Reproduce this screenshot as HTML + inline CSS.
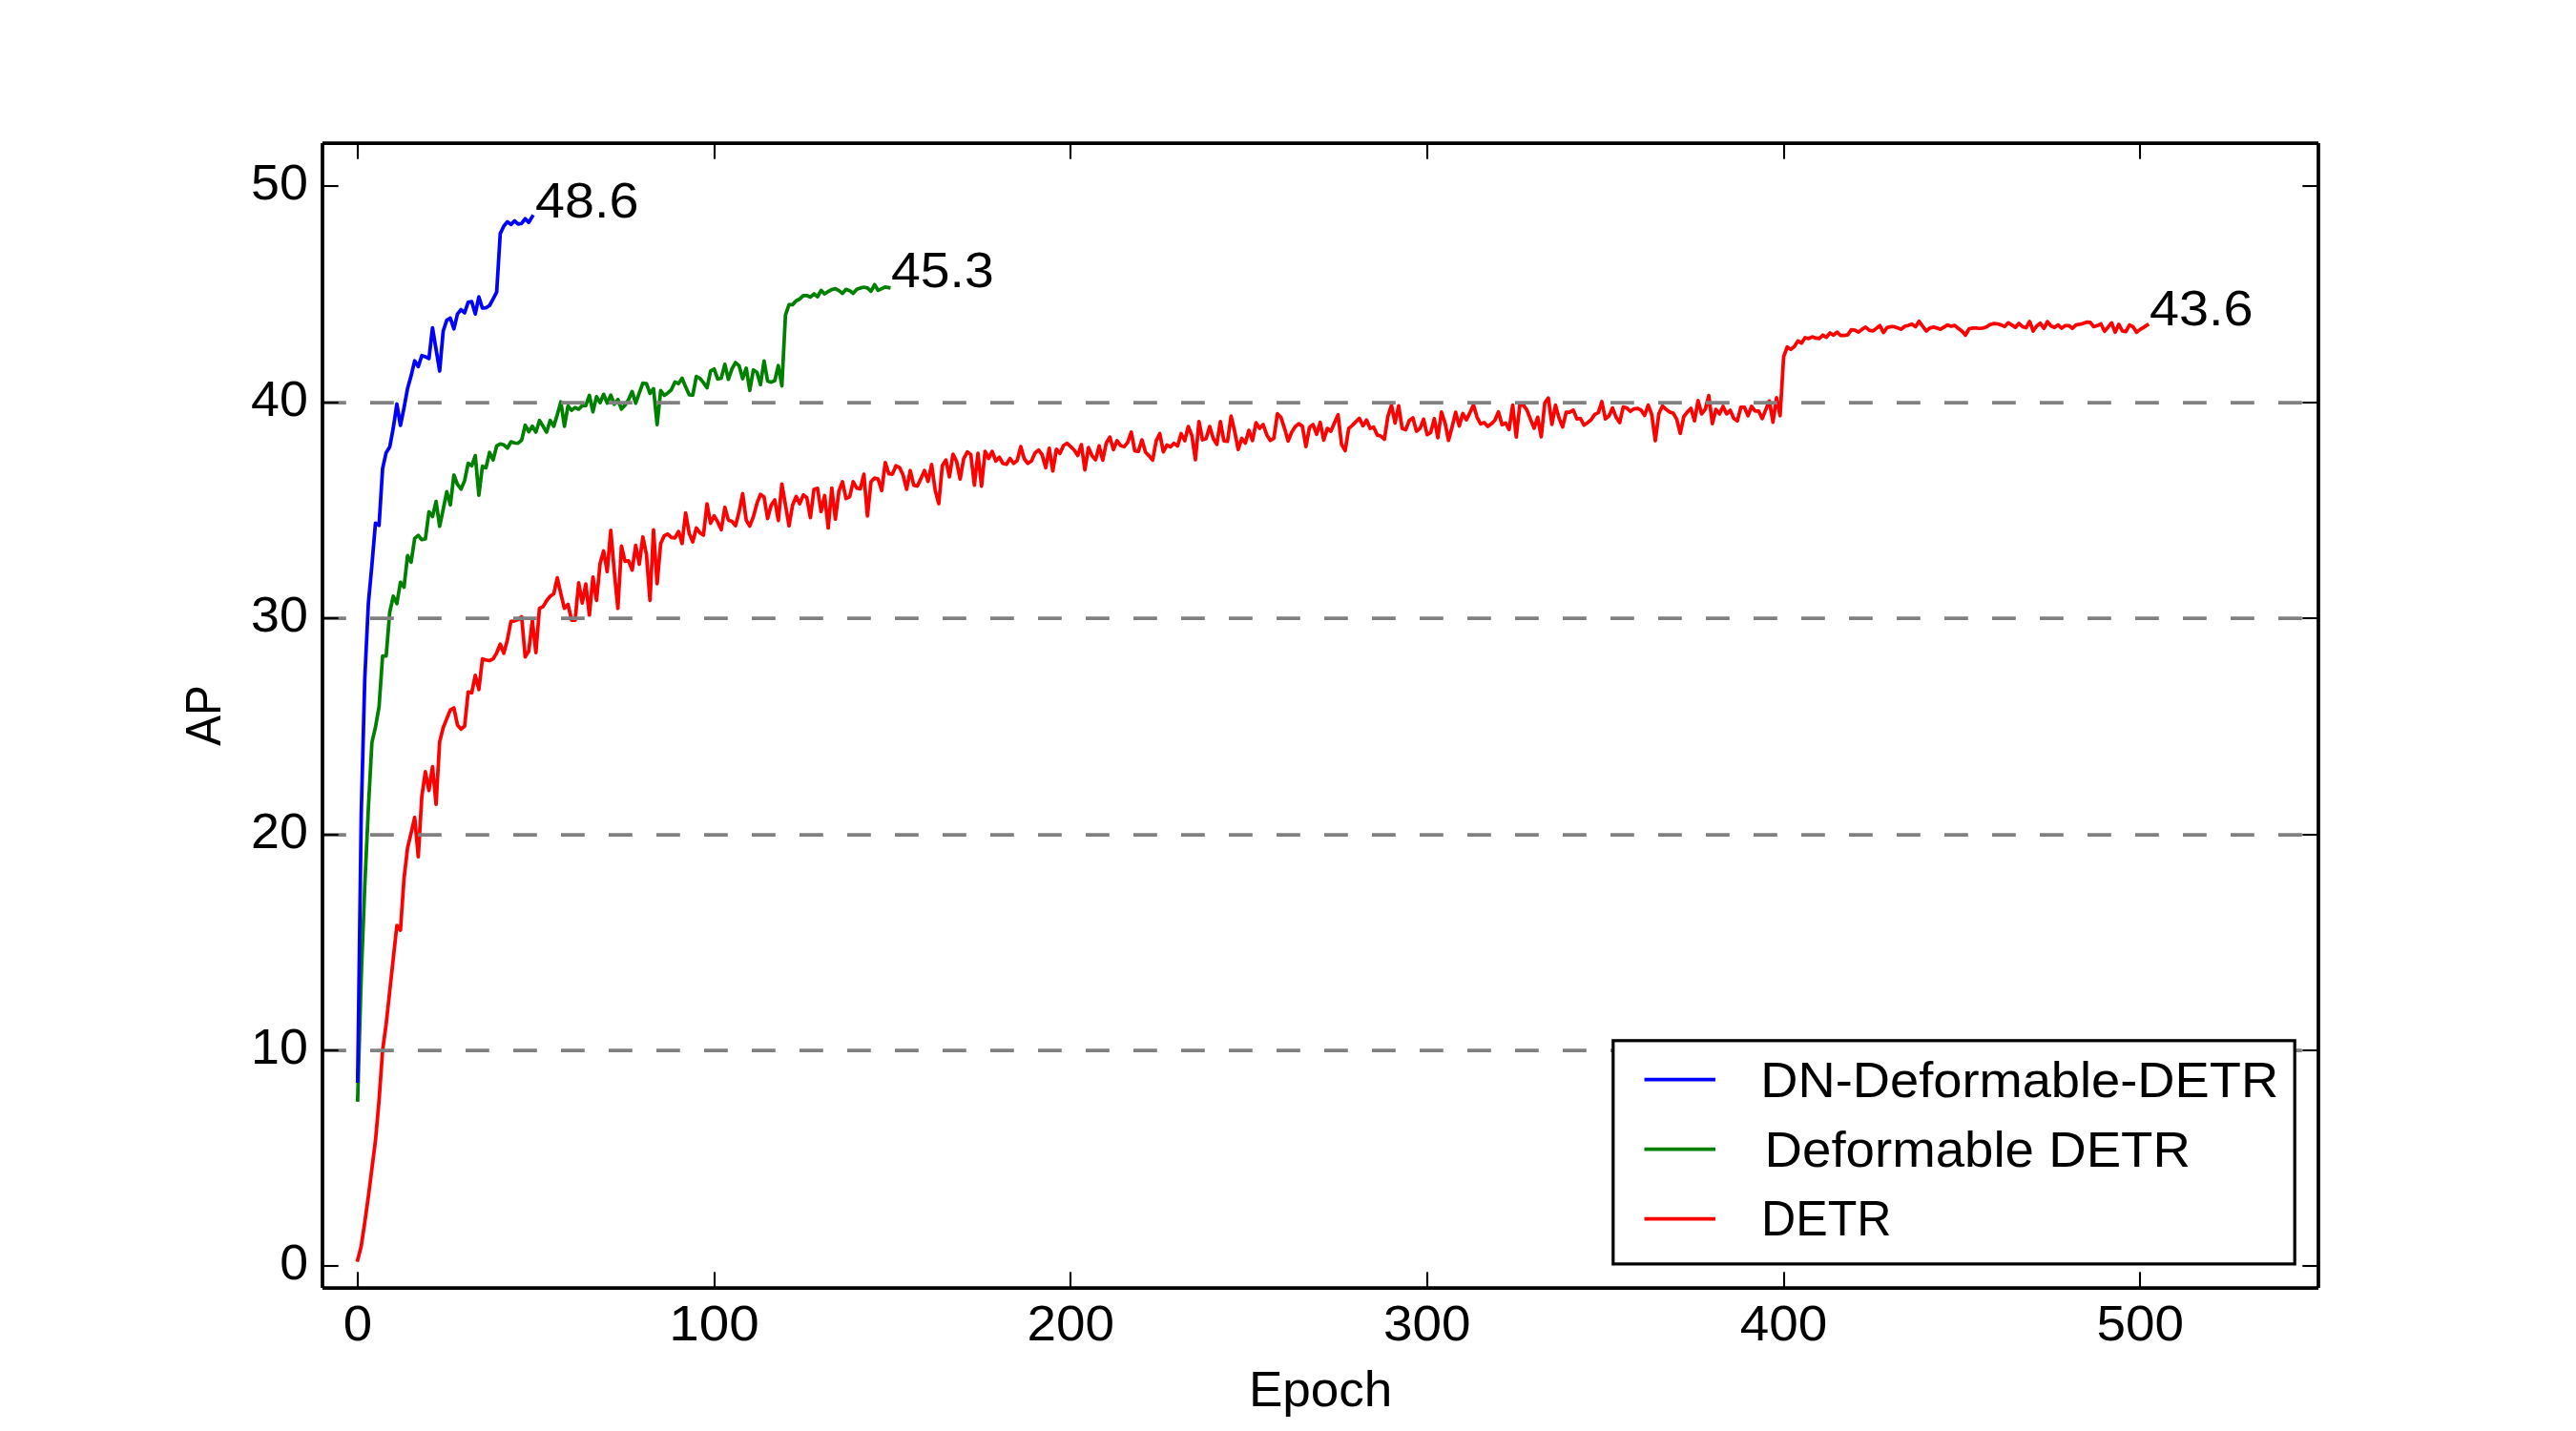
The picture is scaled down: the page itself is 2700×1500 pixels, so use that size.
<!DOCTYPE html><html><head><meta charset="utf-8"><style>html,body{margin:0;padding:0;background:#fff;overflow:hidden}svg{display:block}text{font-family:"Liberation Sans",sans-serif;fill:#000}</style></head><body>
<svg width="2700" height="1500" viewBox="0 0 2700 1500">
<rect width="2700" height="1500" fill="#fff"/>
<polyline points="374.87,1320.79 378.60,1306.30 382.34,1281.17 386.08,1254.23 389.81,1225.02 393.55,1195.58 397.29,1153.70 401.02,1100.94 404.76,1073.32 408.50,1038.91 412.23,1004.49 415.97,970.08 419.71,975.06 423.44,921.40 427.18,888.79 430.92,873.17 434.65,856.87 438.39,898.08 442.12,834.91 445.86,808.87 449.60,828.57 453.33,803.66 457.07,843.06 460.81,777.62 464.54,762.68 468.28,753.40 472.02,744.11 475.75,742.08 479.49,759.96 483.23,764.26 486.96,761.32 490.70,725.32 494.44,726.23 498.17,707.89 501.91,722.83 505.65,690.68 509.38,691.81 513.12,692.49 516.86,690.68 520.59,684.34 524.33,675.28 528.07,684.79 531.80,670.75 535.54,651.28 539.28,650.83 543.01,649.47 546.75,646.53 550.49,688.64 554.22,682.53 557.96,650.38 561.70,684.11 565.43,637.70 569.17,635.89 572.91,629.77 576.64,625.02 580.38,622.53 584.12,605.55 587.85,622.30 591.59,637.70 595.33,633.40 599.06,650.15 602.80,650.15 606.54,610.98 610.27,632.04 614.01,612.11 617.75,644.72 621.48,604.87 625.22,629.32 628.96,590.83 632.69,577.47 636.43,599.21 640.17,555.96 643.90,599.43 647.64,637.70 651.38,572.49 655.11,588.34 658.85,587.89 662.58,597.62 666.32,571.58 670.06,591.51 673.79,562.75 677.53,580.87 681.27,629.32 685.00,555.28 688.74,611.89 692.48,569.77 696.21,561.62 699.95,559.81 703.69,563.43 707.42,563.89 711.16,557.09 714.90,569.77 718.63,537.62 722.37,559.13 726.11,567.96 729.84,553.47 733.58,558.45 737.32,560.94 741.05,528.11 744.79,548.49 748.53,540.79 752.26,547.13 756.00,555.28 759.74,531.74 763.47,545.32 767.21,546.45 770.95,550.98 774.68,536.49 778.42,517.47 782.16,545.32 785.89,551.43 789.63,541.70 793.37,527.66 797.10,518.15 800.84,521.09 804.58,543.51 808.31,529.47 812.05,524.04 815.79,545.55 819.52,507.28 823.26,529.25 827.00,551.21 830.73,529.47 834.47,520.42 838.21,528.11 841.94,518.83 845.68,521.77 849.42,542.60 853.15,512.94 856.89,511.81 860.62,536.26 864.36,519.51 868.10,553.47 871.83,511.58 875.57,544.19 879.31,514.75 883.04,505.02 886.78,522.68 890.52,520.87 894.25,505.02 897.99,511.58 901.73,512.49 905.46,497.09 909.20,540.79 912.94,505.02 916.67,501.17 920.41,502.08 924.15,514.30 927.88,484.87 931.62,496.64 935.36,497.09 939.09,488.26 942.83,490.08 946.57,498.00 950.30,512.94 954.04,493.25 957.78,508.64 961.51,509.55 965.25,501.62 968.99,493.25 972.72,504.57 976.46,486.91 980.20,513.85 983.93,528.11 987.67,488.26 991.41,482.15 995.14,499.81 998.88,476.04 1002.62,483.51 1006.35,502.08 1010.09,480.79 1013.83,473.77 1017.56,476.49 1021.30,508.64 1025.04,475.13 1028.77,509.55 1032.51,473.09 1036.25,480.57 1039.98,473.09 1043.72,483.28 1047.46,479.21 1051.19,485.77 1054.93,486.68 1058.67,480.57 1062.40,485.77 1066.14,482.83 1069.88,468.11 1073.61,481.02 1077.35,485.77 1081.08,483.28 1084.82,474.91 1088.56,471.74 1092.29,476.72 1096.03,490.30 1099.77,469.92 1103.50,493.70 1107.24,470.83 1110.98,475.36 1114.71,466.98 1118.45,464.72 1122.19,468.11 1125.92,471.74 1129.66,477.40 1133.40,466.08 1137.13,492.57 1140.87,469.02 1144.61,477.85 1148.34,481.92 1152.08,467.43 1155.82,482.38 1159.55,464.26 1163.29,458.15 1167.03,471.28 1170.76,462.00 1174.50,466.98 1178.24,468.34 1181.97,463.81 1185.71,452.94 1189.45,472.64 1193.18,473.09 1196.92,461.09 1200.66,474.00 1204.39,477.85 1208.13,482.38 1211.87,462.00 1215.60,454.53 1219.34,473.55 1223.08,466.53 1226.81,468.34 1230.55,464.72 1234.29,467.43 1238.02,454.53 1241.76,462.00 1245.50,447.06 1249.23,456.34 1252.97,481.92 1256.71,441.85 1260.44,461.09 1264.18,459.74 1267.92,447.06 1271.65,459.51 1275.39,465.85 1279.12,441.85 1282.86,462.23 1286.60,462.68 1290.33,436.19 1294.07,452.04 1297.81,471.06 1301.54,459.51 1305.28,464.49 1309.02,451.13 1312.75,461.77 1316.49,443.21 1320.23,449.09 1323.96,445.02 1327.70,455.66 1331.44,461.77 1335.17,459.51 1338.91,433.70 1342.65,437.55 1346.38,449.09 1350.12,462.23 1353.86,452.94 1357.59,447.28 1361.33,444.11 1365.07,446.83 1368.80,468.11 1372.54,447.96 1376.28,445.02 1380.01,455.21 1383.75,442.75 1387.49,461.32 1391.22,449.09 1394.96,452.04 1398.70,443.21 1402.43,434.83 1406.17,465.85 1409.91,472.42 1413.64,449.09 1417.38,445.92 1421.12,442.08 1424.85,438.45 1428.59,446.38 1432.33,440.26 1436.06,449.09 1439.80,447.74 1443.54,456.11 1447.27,457.02 1451.01,460.42 1454.75,436.19 1458.48,424.87 1462.22,443.43 1465.96,425.32 1469.69,449.09 1473.43,450.45 1477.17,440.72 1480.90,438.00 1484.64,452.04 1488.38,449.09 1492.11,439.36 1495.85,455.66 1499.58,453.40 1503.32,438.91 1507.06,458.83 1510.79,431.89 1514.53,442.98 1518.27,461.55 1522.00,447.51 1525.74,432.11 1529.48,446.60 1533.21,433.47 1536.95,440.04 1540.69,432.57 1544.42,424.64 1548.16,437.32 1551.90,444.34 1555.63,442.98 1559.37,447.06 1563.11,444.34 1566.84,440.49 1570.58,431.66 1574.32,445.25 1578.05,443.43 1581.79,450.23 1585.53,424.64 1589.26,458.15 1593.00,424.19 1596.74,424.64 1600.47,429.85 1604.21,439.58 1607.95,448.87 1611.68,437.32 1615.42,457.92 1619.16,422.38 1622.89,417.17 1626.63,444.79 1630.37,424.64 1634.10,438.23 1637.84,447.51 1641.58,432.11 1645.31,432.11 1649.05,429.85 1652.79,439.13 1656.52,438.68 1660.26,445.70 1664.00,442.98 1667.73,440.04 1671.47,434.38 1675.21,432.57 1678.94,421.02 1682.68,439.13 1686.42,435.96 1690.15,427.58 1693.89,437.32 1697.62,442.98 1701.36,426.68 1705.10,427.58 1708.83,431.21 1712.57,428.49 1716.31,428.04 1720.04,429.85 1723.78,435.51 1727.52,424.64 1731.25,434.38 1734.99,462.00 1738.73,433.47 1742.46,425.77 1746.20,428.94 1749.94,431.89 1753.67,433.02 1757.41,439.36 1761.15,454.30 1764.88,436.64 1768.62,431.89 1772.36,428.04 1776.09,441.17 1779.83,419.89 1783.57,433.92 1787.30,429.17 1791.04,414.68 1794.78,444.11 1798.51,429.17 1802.25,433.92 1805.99,426.00 1809.72,433.92 1813.46,430.08 1817.20,438.45 1820.93,441.17 1824.67,426.91 1828.41,426.91 1832.14,435.74 1835.88,426.00 1839.62,430.98 1843.35,430.98 1847.09,438.91 1850.83,429.17 1854.56,420.34 1858.30,442.53 1862.04,416.94 1865.77,435.74 1869.51,373.92 1873.25,363.74 1876.98,366.23 1880.72,363.28 1884.46,357.40 1888.19,359.66 1891.93,354.00 1895.67,354.91 1899.40,353.09 1903.14,354.45 1906.88,354.91 1910.61,351.28 1914.35,353.55 1918.08,349.02 1921.82,351.28 1925.56,348.11 1929.29,351.74 1933.03,351.74 1936.77,350.83 1940.50,345.62 1944.24,346.08 1947.98,348.11 1951.71,345.17 1955.45,342.91 1959.19,346.08 1962.92,346.98 1966.66,344.26 1970.40,341.32 1974.13,348.57 1977.87,343.36 1981.61,342.45 1985.34,342.45 1989.08,343.81 1992.82,345.17 1996.55,342.00 2000.29,341.09 2004.03,339.74 2007.76,342.45 2011.50,336.79 2015.24,342.00 2018.97,346.98 2022.71,343.81 2026.45,342.91 2030.18,343.81 2033.92,345.17 2037.66,342.91 2041.39,340.64 2045.13,342.00 2048.87,341.09 2052.60,344.26 2056.34,346.98 2060.08,351.28 2063.81,344.72 2067.55,343.81 2071.29,343.81 2075.02,344.26 2078.76,343.81 2082.50,342.45 2086.23,340.19 2089.97,339.06 2093.71,339.51 2097.44,340.64 2101.18,342.23 2104.92,338.38 2108.65,340.64 2112.39,343.13 2116.12,339.06 2119.86,342.45 2123.60,343.58 2127.33,337.02 2131.07,346.98 2134.81,341.77 2138.54,338.83 2142.28,344.26 2146.02,337.25 2149.75,341.77 2153.49,343.13 2157.23,340.64 2160.96,344.04 2164.70,341.32 2168.44,341.32 2172.17,344.26 2175.91,340.64 2179.65,339.96 2183.38,339.06 2187.12,337.70 2190.86,337.92 2194.59,342.45 2198.33,341.32 2202.07,339.51 2205.80,347.21 2209.54,342.91 2213.28,338.38 2217.01,348.34 2220.75,339.96 2224.49,346.98 2228.22,347.66 2231.96,340.64 2235.70,342.45 2239.43,348.34 2243.17,345.40 2246.91,343.13 2250.64,340.64" fill="none" stroke="#ff0000" stroke-width="3.75" stroke-linejoin="round" stroke-linecap="square"/>
<polyline points="374.87,1153.02 378.60,1023.96 382.34,928.87 386.08,847.36 389.81,778.30 393.55,762.23 397.29,740.94 401.02,687.51 404.76,687.51 408.50,641.77 412.23,625.02 415.97,632.72 419.71,610.30 423.44,615.51 427.18,582.45 430.92,589.25 434.65,564.34 438.39,561.17 442.12,565.70 445.86,565.02 449.60,536.49 453.33,541.47 457.07,525.62 460.81,551.66 464.54,533.77 468.28,515.43 472.02,529.25 475.75,498.00 479.49,507.74 483.23,512.72 486.96,503.89 490.70,485.55 494.44,488.26 498.17,477.62 501.91,519.06 505.65,488.72 509.38,490.30 513.12,474.23 516.86,482.15 520.59,467.43 524.33,465.40 528.07,466.30 531.80,469.70 535.54,463.13 539.28,464.26 543.01,464.72 546.75,461.32 550.49,445.70 554.22,452.49 557.96,446.83 561.70,452.94 565.43,440.72 569.17,446.83 572.91,452.94 576.64,440.72 580.38,446.83 584.12,434.60 587.85,421.25 591.59,446.83 595.33,425.55 599.06,430.08 602.80,427.13 606.54,428.94 610.27,425.09 614.01,425.09 617.75,414.45 621.48,431.66 625.22,415.81 628.96,422.15 632.69,413.32 636.43,422.60 640.17,414.23 643.90,423.74 647.64,418.75 651.38,428.72 655.11,424.64 658.85,418.75 662.58,410.38 666.32,422.60 670.06,411.96 673.79,401.55 677.53,402.00 681.27,412.42 685.00,407.43 688.74,445.02 692.48,409.47 696.21,414.45 699.95,411.96 703.69,408.57 707.42,400.42 711.16,402.00 714.90,396.57 718.63,405.40 722.37,413.77 726.11,414.23 729.84,394.53 733.58,396.57 737.32,401.09 741.05,406.53 744.79,388.87 748.53,386.83 752.26,397.25 756.00,396.34 759.74,381.85 763.47,397.70 767.21,386.60 770.95,380.04 774.68,383.43 778.42,397.02 782.16,385.92 785.89,409.25 789.63,387.74 793.37,390.23 797.10,403.13 800.84,378.45 804.58,399.51 808.31,400.64 812.05,399.06 815.79,383.21 819.52,404.49 823.26,330.45 827.00,319.36 830.73,319.36 834.47,315.28 838.21,313.47 841.94,309.85 845.68,309.85 849.42,311.43 853.15,308.04 856.89,310.98 860.62,304.42 864.36,308.04 868.10,305.55 871.83,303.51 875.57,302.60 879.31,304.64 883.04,307.58 886.78,303.28 890.52,304.64 894.25,307.58 897.99,303.28 901.73,301.92 905.46,301.02 909.20,301.92 912.94,305.32 916.67,298.30 920.41,304.42 924.15,302.60 927.88,300.79 931.62,301.47" fill="none" stroke="#008000" stroke-width="3.75" stroke-linejoin="round" stroke-linecap="square"/>
<polyline points="374.87,1133.09 378.60,854.15 382.34,711.51 386.08,632.72 389.81,592.42 393.55,548.26 397.29,550.75 401.02,491.21 404.76,474.45 408.50,468.57 412.23,448.42 415.97,423.51 419.71,445.92 423.44,427.58 427.18,407.21 430.92,393.85 434.65,378.23 438.39,384.34 442.12,372.79 445.86,373.92 449.60,375.96 453.33,343.58 457.07,366.23 460.81,388.87 464.54,346.98 468.28,335.66 472.02,333.40 475.75,344.72 479.49,329.09 483.23,324.57 486.96,327.96 490.70,316.87 494.44,316.19 498.17,329.09 501.91,311.21 505.65,322.98 509.38,322.53 513.12,320.26 516.86,313.47 520.59,306.23 524.33,244.87 528.07,236.94 531.80,232.42 535.54,235.36 539.28,231.51 543.01,234.91 546.75,234.23 550.49,229.25 554.22,233.09 557.96,226.98" fill="none" stroke="#0000ff" stroke-width="3.75" stroke-linejoin="round" stroke-linecap="square"/>
<line x1="338" y1="1101" x2="2430" y2="1101" stroke="#808080" stroke-width="3.75" stroke-dasharray="24.8 25.2"/>
<line x1="338" y1="875" x2="2430" y2="875" stroke="#808080" stroke-width="3.75" stroke-dasharray="24.8 25.2"/>
<line x1="338" y1="648" x2="2430" y2="648" stroke="#808080" stroke-width="3.75" stroke-dasharray="24.8 25.2"/>
<line x1="338" y1="422" x2="2430" y2="422" stroke="#808080" stroke-width="3.75" stroke-dasharray="24.8 25.2"/>
<line x1="375" y1="1350" x2="375" y2="1333.3" stroke="#000" stroke-width="2.1"/>
<line x1="375" y1="150" x2="375" y2="166.7" stroke="#000" stroke-width="2.1"/>
<line x1="749" y1="1350" x2="749" y2="1333.3" stroke="#000" stroke-width="2.1"/>
<line x1="749" y1="150" x2="749" y2="166.7" stroke="#000" stroke-width="2.1"/>
<line x1="1122" y1="1350" x2="1122" y2="1333.3" stroke="#000" stroke-width="2.1"/>
<line x1="1122" y1="150" x2="1122" y2="166.7" stroke="#000" stroke-width="2.1"/>
<line x1="1496" y1="1350" x2="1496" y2="1333.3" stroke="#000" stroke-width="2.1"/>
<line x1="1496" y1="150" x2="1496" y2="166.7" stroke="#000" stroke-width="2.1"/>
<line x1="1870" y1="1350" x2="1870" y2="1333.3" stroke="#000" stroke-width="2.1"/>
<line x1="1870" y1="150" x2="1870" y2="166.7" stroke="#000" stroke-width="2.1"/>
<line x1="2243" y1="1350" x2="2243" y2="1333.3" stroke="#000" stroke-width="2.1"/>
<line x1="2243" y1="150" x2="2243" y2="166.7" stroke="#000" stroke-width="2.1"/>
<line x1="338" y1="1327" x2="354.7" y2="1327" stroke="#000" stroke-width="2.1"/>
<line x1="2430" y1="1327" x2="2413.3" y2="1327" stroke="#000" stroke-width="2.1"/>
<line x1="338" y1="1101" x2="354.7" y2="1101" stroke="#000" stroke-width="2.1"/>
<line x1="2430" y1="1101" x2="2413.3" y2="1101" stroke="#000" stroke-width="2.1"/>
<line x1="338" y1="875" x2="354.7" y2="875" stroke="#000" stroke-width="2.1"/>
<line x1="2430" y1="875" x2="2413.3" y2="875" stroke="#000" stroke-width="2.1"/>
<line x1="338" y1="648" x2="354.7" y2="648" stroke="#000" stroke-width="2.1"/>
<line x1="2430" y1="648" x2="2413.3" y2="648" stroke="#000" stroke-width="2.1"/>
<line x1="338" y1="422" x2="354.7" y2="422" stroke="#000" stroke-width="2.1"/>
<line x1="2430" y1="422" x2="2413.3" y2="422" stroke="#000" stroke-width="2.1"/>
<line x1="338" y1="195" x2="354.7" y2="195" stroke="#000" stroke-width="2.1"/>
<line x1="2430" y1="195" x2="2413.3" y2="195" stroke="#000" stroke-width="2.1"/>
<line x1="338" y1="150" x2="338" y2="1350" stroke="#000" stroke-width="3.75"/>
<line x1="2430" y1="150" x2="2430" y2="1350" stroke="#000" stroke-width="3.75"/>
<line x1="338" y1="150" x2="2430" y2="150" stroke="#000" stroke-width="3.75"/>
<line x1="338" y1="1350" x2="2430" y2="1350" stroke="#000" stroke-width="3.75"/>
<text x="323.00" y="1341.00" font-size="52" text-anchor="end" transform="translate(323.00 0) scale(1.032 1) translate(-323.00 0)">0</text>
<text x="323.00" y="1115.00" font-size="52" text-anchor="end" transform="translate(323.00 0) scale(1.035 1) translate(-323.00 0)">10</text>
<text x="323.00" y="889.00" font-size="52" text-anchor="end" transform="translate(323.00 0) scale(1.035 1) translate(-323.00 0)">20</text>
<text x="323.00" y="662.00" font-size="52" text-anchor="end" transform="translate(323.00 0) scale(1.035 1) translate(-323.00 0)">30</text>
<text x="323.00" y="436.00" font-size="52" text-anchor="end" transform="translate(323.00 0) scale(1.035 1) translate(-323.00 0)">40</text>
<text x="323.00" y="209.00" font-size="52" text-anchor="end" transform="translate(323.00 0) scale(1.035 1) translate(-323.00 0)">50</text>
<text x="374.87" y="1405.00" font-size="52" text-anchor="middle" transform="translate(374.87 0) scale(1.05 1) translate(-374.87 0)">0</text>
<text x="748.53" y="1405.00" font-size="52" text-anchor="middle" transform="translate(748.53 0) scale(1.09 1) translate(-748.53 0)">100</text>
<text x="1122.19" y="1405.00" font-size="52" text-anchor="middle" transform="translate(1122.19 0) scale(1.055 1) translate(-1122.19 0)">200</text>
<text x="1495.85" y="1405.00" font-size="52" text-anchor="middle" transform="translate(1495.85 0) scale(1.055 1) translate(-1495.85 0)">300</text>
<text x="1869.51" y="1405.00" font-size="52" text-anchor="middle" transform="translate(1869.51 0) scale(1.055 1) translate(-1869.51 0)">400</text>
<text x="2243.17" y="1405.00" font-size="52" text-anchor="middle" transform="translate(2243.17 0) scale(1.055 1) translate(-2243.17 0)">500</text>
<text x="1308.90" y="1473.80" font-size="52" text-anchor="start" transform="translate(1308.90 0) scale(1.021 1) translate(-1308.90 0)">Epoch</text>
<text transform="translate(231 749.9) rotate(-90) scale(0.918 1)" x="0" y="0" font-size="52" text-anchor="middle">AP</text>
<text x="561.00" y="227.80" font-size="52" text-anchor="start" transform="translate(561.00 0) scale(1.071 1) translate(-561.00 0)">48.6</text>
<text x="934.10" y="300.90" font-size="52" text-anchor="start" transform="translate(934.10 0) scale(1.064 1) translate(-934.10 0)">45.3</text>
<text x="2253.00" y="341.20" font-size="52" text-anchor="start" transform="translate(2253.00 0) scale(1.072 1) translate(-2253.00 0)">43.6</text>
<rect x="1690.8" y="1090.8" width="714.4" height="234.1" fill="#fff" stroke="#000" stroke-width="3.2"/>
<line x1="1725.4" y1="1131.7" x2="1796.1" y2="1131.7" stroke="#0000ff" stroke-width="3.75" stroke-linecap="square"/>
<line x1="1725.4" y1="1204.7" x2="1796.1" y2="1204.7" stroke="#008000" stroke-width="3.75" stroke-linecap="square"/>
<line x1="1725.4" y1="1277.6" x2="1796.1" y2="1277.6" stroke="#ff0000" stroke-width="3.75" stroke-linecap="square"/>
<text x="1845.30" y="1150.40" font-size="52" text-anchor="start" transform="translate(1845.30 0) scale(1.044 1) translate(-1845.30 0)">DN-Deformable-DETR</text>
<text x="1849.60" y="1222.80" font-size="52" text-anchor="start" transform="translate(1849.60 0) scale(1.051 1) translate(-1849.60 0)">Deformable DETR</text>
<text x="1846.10" y="1295.50" font-size="52" text-anchor="start" transform="translate(1846.10 0) scale(0.964 1) translate(-1846.10 0)">DETR</text>
</svg></body></html>
